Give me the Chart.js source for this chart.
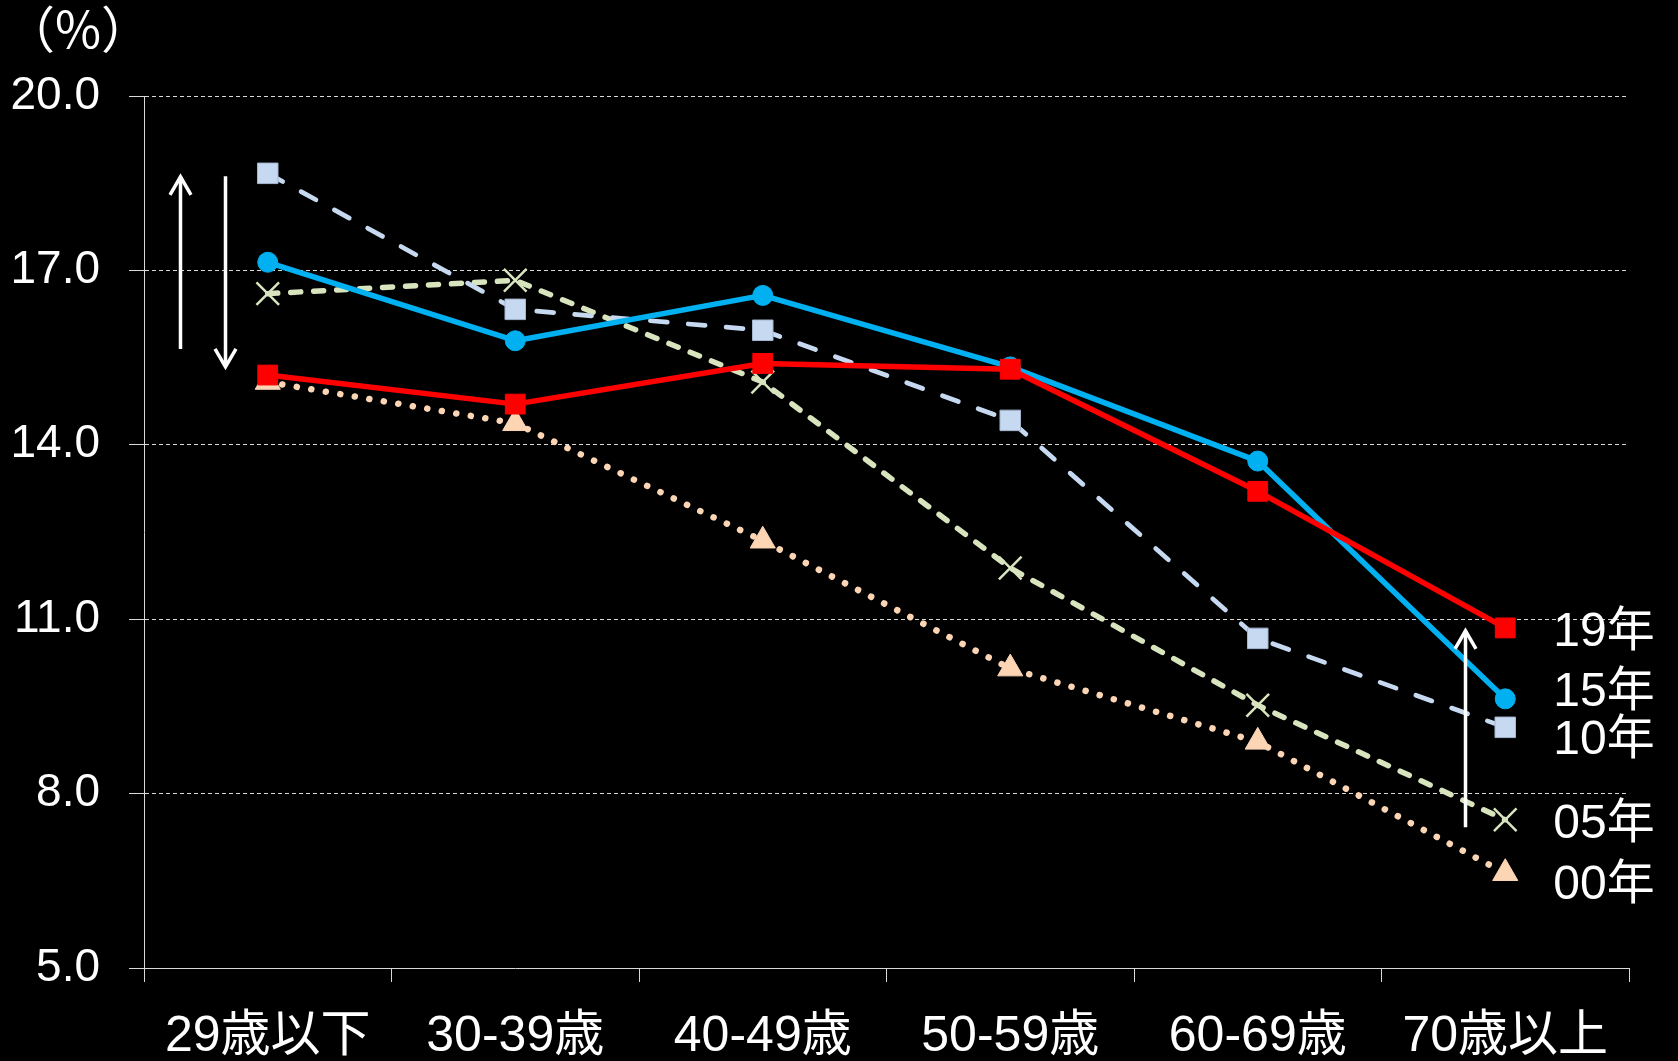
<!DOCTYPE html>
<html lang="ja">
<head>
<meta charset="utf-8">
<script src="https://cdn.jsdelivr.net/npm/chart.js@4.4.1/dist/chart.umd.min.js"></script>
<style>
  html, body { margin: 0; padding: 0; background: #000; }
  canvas { display: block; }
</style>
</head>
<body>
<canvas id="chart" width="1678" height="1061"></canvas>
<script>
// Age groups on the x axis
const ageGroups = ['29歳以下', '30-39歳', '40-49歳', '50-59歳', '60-69歳', '70歳以上'];
// Survey years, one line each (drawn top-most first)
const seriesNames = ['19年', '15年', '10年', '05年', '00年'];
// Share by age group, %
const share19 = [15.2, 14.7, 15.4, 15.3, 13.2, 10.85];
const share15 = [17.14, 15.79, 16.57, 15.34, 13.72, 9.63];
const share10 = [18.67, 16.33, 15.97, 14.42, 10.67, 9.14];
const share05 = [16.6, 16.83, 15.08, 11.88, 9.52, 7.55];
const share00 = [15.08, 14.37, 12.35, 10.15, 8.89, 6.63];
// Value axis ticks
const yTicks = [5, 8, 11, 14, 17, 20];
const unitLabel = '（%）';

const FONT_LATIN = '"Liberation Sans", Arial, "Noto Sans CJK JP", sans-serif';
const FONT_AXIS_X = '"Liberation Sans Narrow", "Liberation Sans", "Noto Sans CJK JP", sans-serif';
const GRID = '#d9d9d9';

const blackBackground = {
  id: 'blackBackground',
  beforeDraw(chart) {
    const { ctx, width, height } = chart;
    ctx.save();
    ctx.fillStyle = '#000';
    ctx.fillRect(0, 0, width, height);
    ctx.restore();
  }
};

// "(%)" unit caption above the value axis
const unitCaption = {
  id: 'unitCaption',
  afterDraw(chart, args, opts) {
    const { ctx } = chart;
    ctx.save();
    ctx.fillStyle = '#fff';
    ctx.font = '50px "Noto Sans CJK JP", sans-serif';
    ctx.textAlign = 'left';
    ctx.textBaseline = 'middle';
    ctx.fillText(opts.text, opts.x, opts.y);
    ctx.restore();
  }
};

// White arrows marking the direction of change
const trendArrows = {
  id: 'trendArrows',
  afterDatasetsDraw(chart, args, opts) {
    const { ctx, scales: { x, y } } = chart;
    ctx.save();
    ctx.strokeStyle = '#fff';
    ctx.lineWidth = 3.5;
    ctx.lineCap = 'butt';
    ctx.lineJoin = 'miter';
    opts.arrows.forEach(a => {
      const px = Math.round(x.getPixelForValue(a.at)) + 0.5;
      const y1 = y.getPixelForValue(a.from);
      const y2 = y.getPixelForValue(a.to);
      const dir = Math.sign(y2 - y1);
      ctx.beginPath();
      ctx.moveTo(px, y1);
      ctx.lineTo(px, y2);
      ctx.stroke();
      ctx.beginPath();
      ctx.moveTo(px - 10.5, y2 - dir * 18);
      ctx.lineTo(px, y2);
      ctx.lineTo(px + 10.5, y2 - dir * 18);
      ctx.stroke();
    });
    ctx.restore();
  }
};

// Year names written next to the last point of each line
const endLabels = {
  id: 'endLabels',
  afterDatasetsDraw(chart, args, opts) {
    const { ctx } = chart;
    ctx.save();
    ctx.fillStyle = '#fff';
    ctx.font = '48px ' + FONT_LATIN;
    ctx.textAlign = 'left';
    ctx.textBaseline = 'middle';
    chart.data.datasets.forEach((ds, i) => {
      const meta = chart.getDatasetMeta(i);
      const pt = meta.data[meta.data.length - 1];
      ctx.fillText(ds.label, pt.x + opts.gap, pt.y + opts.nudge[i]);
    });
    ctx.restore();
  }
};

const lineStyles = [
  { color: '#ff0000', width: 5.5, dash: [], point: 'rect', radius: 14, pointBorder: '#ff0000', pointBorderWidth: 1 },
  { color: '#00b0f0', width: 5.5, dash: [], point: 'circle', radius: 10, pointBorder: '#00b0f0', pointBorderWidth: 1 },
  { color: '#c6d9f1', width: 4.7, dash: [17, 21], point: 'rect', radius: 14.5, pointBorder: '#a3b5cf', pointBorderWidth: 1 },
  { color: '#d7e4bd', width: 5.5, dash: [10, 13], point: 'crossRot', radius: 16, pointBorder: '#d7e4bd', pointBorderWidth: 2.5 },
  { color: '#fcd5b5', width: 6.5, dash: [0.1, 14.6], point: 'triangle', radius: 14.5, pointBorder: '#fcd5b5', pointBorderWidth: 1 }
];
const seriesValues = [share19, share15, share10, share05, share00];

const datasets = seriesNames.map((name, i) => {
  const s = lineStyles[i];
  return {
    label: name,
    data: seriesValues[i],
    borderColor: s.color,
    backgroundColor: s.color,
    borderWidth: s.width,
    borderDash: s.dash,
    borderCapStyle: s.dash.length ? 'round' : 'butt',
    borderJoinStyle: 'round',
    tension: 0,
    pointStyle: s.point,
    pointRadius: s.radius,
    pointHoverRadius: s.radius,
    pointBackgroundColor: s.color,
    pointBorderColor: s.pointBorder,
    pointBorderWidth: s.pointBorderWidth
  };
});

new Chart(document.getElementById('chart'), {
  type: 'line',
  data: { labels: ageGroups, datasets },
  plugins: [blackBackground, unitCaption, trendArrows, endLabels],
  options: {
    responsive: false,
    animation: false,
    devicePixelRatio: 1,
    layout: { padding: { top: 96, right: 49, bottom: 0, left: 0 } },
    plugins: {
      legend: { display: false },
      tooltip: { enabled: false },
      unitCaption: { text: unitLabel, x: 5, y: 29 },
      trendArrows: {
        arrows: [
          { at: -0.3565, from: 15.65, to: 18.61 },
          { at: -0.1734, from: 18.62, to: 15.34 },
          { at: 4.8375, from: 7.42, to: 10.80 }
        ]
      },
      endLabels: { gap: 48, nudge: [5, -6, 13, 5, 13] }
    },
    scales: {
      x: {
        offset: true,
        afterFit(scale) { scale.height = 93; },
        border: { display: true, color: GRID, width: 1 },
        grid: {
          offset: true,
          drawOnChartArea: false,
          drawTicks: true,
          tickLength: 14,
          color: GRID,
          tickColor: GRID
        },
        ticks: {
          color: '#fff',
          font: { size: 50, family: FONT_AXIS_X },
          padding: 25,
          maxRotation: 0,
          autoSkip: false
        }
      },
      y: {
        min: 5,
        max: 20,
        afterBuildTicks(scale) { scale.ticks = yTicks.map(v => ({ value: v })); },
        afterFit(scale) { scale.width = 144; },
        border: { display: true, color: GRID, width: 1, dash: [4, 3] },
        grid: {
          color: GRID,
          lineWidth: 1,
          drawTicks: true,
          tickLength: 15,
          tickColor: GRID,
          tickBorderDash: []
        },
        ticks: {
          color: '#fff',
          font: { size: 46, family: FONT_LATIN },
          padding: 29,
          callback: v => Number(v).toFixed(1)
        }
      }
    }
  }
});
</script>
</body>
</html>
